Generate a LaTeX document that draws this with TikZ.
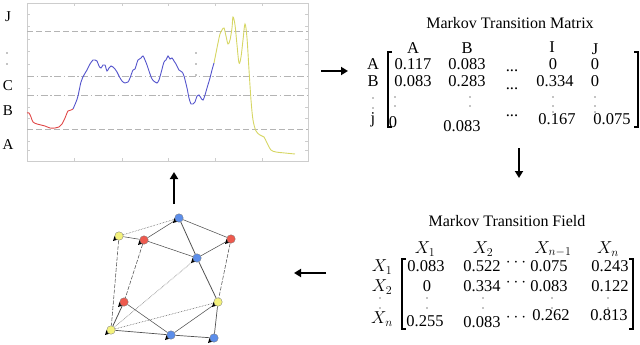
\documentclass[tikz,border=0pt]{standalone}
\usepackage{fontspec}
\setmainfont{Liberation Serif}
\usetikzlibrary{arrows.meta,backgrounds}
\definecolor{cred}{HTML}{E04848}
\definecolor{cblue}{HTML}{5454CC}
\definecolor{cyel}{HTML}{D6D664}
\definecolor{nred}{HTML}{EE5A4E}
\definecolor{nblue}{HTML}{5C8EEA}
\definecolor{nyel}{HTML}{F4F27C}
\definecolor{gridc}{HTML}{B4B4B4}
\definecolor{framec}{HTML}{CDCDCD}
\definecolor{edgec}{HTML}{505050}
\tikzset{
  txt/.style={inner sep=0pt, font=\fontsize{16.5}{18}\selectfont},
  lbl/.style={inner sep=0pt, font=\fontsize{15}{17}\selectfont},
  ttl/.style={inner sep=0pt, font=\fontsize{16}{18}\selectfont},
  bigarrow/.style={line width=2.3pt, -{Triangle[length=7pt,width=8pt]}},
  gnode/.style={circle, inner sep=0pt, minimum size=8.5pt, draw=black!55, line width=0.3pt},
  gedge/.style={draw=edgec, line width=0.55pt},
  gdot/.style={gedge, densely dotted},
  gdash/.style={gedge, dash pattern=on 4pt off 1.5pt},
  hgrid/.style={gridc, line width=0.7pt, dash pattern=on 6pt off 3pt},
  hgriddot/.style={gridc, line width=0.7pt, dash pattern=on 7pt off 2.5pt on 1.5pt off 2.5pt},
  brk/.style={line width=1.1pt},
}
\begin{document}
\begin{tikzpicture}[x=1pt,y=-1pt]
\useasboundingbox (0,0) rectangle (640,345);

% ---------- time series plot ----------
\draw[framec, line width=0.8pt] (27,3) rectangle (308,161);
\foreach \xx in {74,122,168,215,262} {
  \draw[framec, line width=0.5pt] (\xx,3) -- ++(0,3);
  \draw[framec, line width=0.5pt] (\xx,161) -- ++(0,-3);
}
\foreach \yy in {14,26,39,51,64,88,107,118,141,150} {
  \draw[framec, line width=0.5pt] (27,\yy) -- ++(3,0);
  \draw[framec, line width=0.5pt] (308,\yy) -- ++(-3,0);
}
\draw[hgrid] (27,31) -- (308,31);
\draw[hgriddot] (27,76) -- (308,76);
\draw[hgriddot] (27,95) -- (308,95);
\draw[hgrid] (27,129) -- (308,129);

\draw[cred, line width=0.9pt] plot[smooth, tension=0.55] coordinates {
(27,113) (29,113) (31,117) (33,122) (37,124) (41,125) (45,126) (50,128) (55,128) (59,127) (62,124) (65,118) (68,111) (71,110) (73,109)};
\draw[cblue, line width=0.9pt] plot[smooth, tension=0.55] coordinates {
(73,109) (76,102) (78,96) (81,82) (84,75) (87,70) (90,64) (93,60) (95,60) (97,61) (99,66) (101,68) (103,65) (105,65) (107,71) (109,68) (111,66) (113,67) (115,69) (117,72) (119,76) (122,81) (125,83) (128,82) (130,78) (133,70) (135,69) (138,60) (141,58) (143,56) (145,60) (147,65) (149,71) (152,79) (155,82) (157,83) (159,80) (161,73) (164,62) (166,60) (168,56) (170,59) (172,58) (174,61) (176,64) (179,70) (182,72) (184,76) (187,88) (189,98) (191,104) (193,104) (195,102) (197,96) (199,95) (201,98) (203,100) (205,95) (207,88) (210,78) (212,70) (214,63)};
\draw[cyel, line width=0.9pt] plot[smooth, tension=0.55] coordinates {
(214,63) (216,53) (218,43) (220,34) (222,30) (224,28) (226,36) (228,44) (230,40) (232,28) (233,17) (235,25) (237,45) (239,63) (241,57) (243,40) (245,24) (247,38) (249,70) (251,100) (253,120) (256,131) (260,135) (264,137) (267,143) (271,150) (276,152) (285,153) (295,154)};

\foreach \yy in {53,64,75} \fill (196,\yy) circle (0.7pt);

\node[lbl] (lJ) at (8,17) {J};
\foreach \yy in {53,64} \fill (7,\yy) circle (0.7pt);
\node[lbl] (lC) at (8,86) {C};
\node[lbl] (lB) at (8,111) {B};
\node[lbl] (lA) at (8,145) {A};

% ---------- Markov Transition Matrix ----------
\node[ttl] (mtmt) at (510,23) {Markov Transition Matrix};
\node[txt] (hA) at (413,48) {A};
\node[txt] (hB) at (467,48) {B};
\node[txt] (hI) at (552,47) {I};
\node[txt] (hJ) at (595,49) {J};
\node[txt] (rA) at (373,64) {A};
\node[txt] (rB) at (373,81) {B};
\node[txt, anchor=base] (rj) at (373,123) {j};
\foreach \yy in {98,108} \fill (373,\yy) circle (0.6pt);
\draw[brk] (392,52) -- (388,52) -- (388,127) -- (392,127);
\draw[brk] (634,52) -- (638,52) -- (638,127) -- (634,127);
\node[txt] (m11) at (413,64) {0.117};
\node[txt] (m12) at (467,64) {0.083};
\node[txt, anchor=base] (m13) at (512,71) {...};
\node[txt] (m14) at (553,64) {0};
\node[txt] (m15) at (595,64) {0};
\node[txt] (m21) at (413,81) {0.083};
\node[txt] (m22) at (467,81) {0.283};
\node[txt, anchor=base] (m23) at (512,89) {...};
\node[txt] (m24) at (555,81) {0.334};
\node[txt] (m25) at (595,81) {0};
\foreach \xx in {395,470,553,595} { \foreach \yy in {97,106} \fill (\xx,\yy) circle (0.6pt); }
\foreach \xx in {553,595} \fill (\xx,112) circle (0.6pt);
\node[txt] (m41) at (393,122) {0};
\node[txt] (m42) at (462,126) {0.083};
\node[txt, anchor=base] (m43) at (512,116) {...};
\node[txt] (m44) at (557,119) {0.167};
\node[txt] (m45) at (612,119) {0.075};

% ---------- Markov Transition Field ----------
\node[ttl] (mtft) at (507,221) {Markov Transition Field};
\node[txt] (fh1) at (425,249) {$X_1$};
\node[txt] (fh2) at (483,249) {$X_2$};
\node[txt] (fh3) at (553,249) {$X_{n-1}$};
\node[txt] (fh4) at (608,249) {$X_n$};
\node[txt] (fr1) at (382,267) {$X_1$};
\node[txt] (fr2) at (382,287) {$X_2$};
\node[txt] (fr3) at (382,319) {$X_n$};
\foreach \yy in {298,308} \fill (380,\yy) circle (0.6pt);
\draw[brk] (406,259) -- (402,259) -- (402,329) -- (406,329);
\draw[brk] (629,259) -- (633,259) -- (633,329) -- (629,329);
\node[txt] (f11) at (426,266) {0.083};
\node[txt] (f12) at (482,266) {0.522};
\node[txt] (f13) at (516,263) {$\cdots$};
\node[txt] (f14) at (549,266) {0.075};
\node[txt] (f15) at (610,266) {0.243};
\node[txt] (f21) at (427,286) {0};
\node[txt] (f22) at (482,286) {0.334};
\node[txt] (f23) at (516,283) {$\cdots$};
\node[txt] (f24) at (549,286) {0.083};
\node[txt] (f25) at (610,286) {0.122};
\foreach \xx in {427,483,552,608} { \foreach \yy in {298,308} \fill (\xx,\yy) circle (0.6pt); }
\node[txt] (f41) at (425,321) {0.255};
\node[txt] (f42) at (482,322) {0.083};
\node[txt] (f43) at (516,318) {$\cdots$};
\node[txt] (f44) at (551,315) {0.262};
\node[txt] (f45) at (609,315) {0.813};

% ---------- arrows ----------
\coordinate (a1s) at (321,71); \coordinate (a1e) at (348,71);
\coordinate (a2s) at (519,148); \coordinate (a2e) at (519,178);
\coordinate (a3s) at (326,273); \coordinate (a3e) at (294,273);
\coordinate (a4s) at (174,204); \coordinate (a4e) at (174,172);
\draw[bigarrow] (a1s) -- (a1e);
\draw[bigarrow] (a2s) -- (a2e);
\draw[bigarrow] (a3s) -- (a3e);
\draw[bigarrow] (a4s) -- (a4e);

% ---------- graph ----------
\node[gnode, fill=nblue] (n1) at (179,218) {};
\node[gnode, fill=nyel]  (n2) at (119,236) {};
\node[gnode, fill=nred]  (n3) at (144,240) {};
\node[gnode, fill=nred]  (n4) at (231,239) {};
\node[gnode, fill=nblue] (n5) at (197,258) {};
\node[gnode, fill=nred]  (n6) at (124,302) {};
\node[gnode, fill=nyel]  (n7) at (218,302) {};
\node[gnode, fill=nyel]  (n8) at (111,330) {};
\node[gnode, fill=nblue] (n9) at (171,335) {};
\node[gnode, fill=nblue] (n10) at (214,338) {};
\begin{pgfonlayer}{background}
\draw[gdot] (n2) -- (n1);
\draw[gedge] (n2) -- (n3);
\draw[gedge] (n3) -- (n1);
\draw[gedge, line width=0.8pt] (n1) -- (n5);
\draw[gedge] (n1) -- (n4);
\draw[gedge] (n3) -- (n5);
\draw[gedge] (n5) -- (n4);
\draw[gedge, line width=0.8pt] (n5) -- (n7);
\draw[gdash] (n4) -- (n7);
\draw[gedge, line width=0.7pt] (n7) -- (n10);
\draw[gdash] (n2) -- (n8);
\draw[gdash] (n3) -- (n6);
\draw[gedge, line width=0.8pt] (n6) -- (n8);
\draw[gdot] (n5) -- (n8);
\draw[gedge] (n6) -- (n9);
\draw[gdot] (n8) -- (n7);
\draw[gedge] (n9) -- (n7);
\draw[gedge, line width=0.7pt] (n8) -- (n9);
\draw[gedge, line width=0.7pt] (n9) -- (n10);
\foreach \n in {n1,n2,n3,n4,n5,n6,n7,n8,n9,n10} {
  \fill[black] (\n.center) ++(-6,5) -- ++(1.5,-5) -- ++(3.5,3.5) -- cycle;
}
\end{pgfonlayer}
\end{tikzpicture}
\end{document}
